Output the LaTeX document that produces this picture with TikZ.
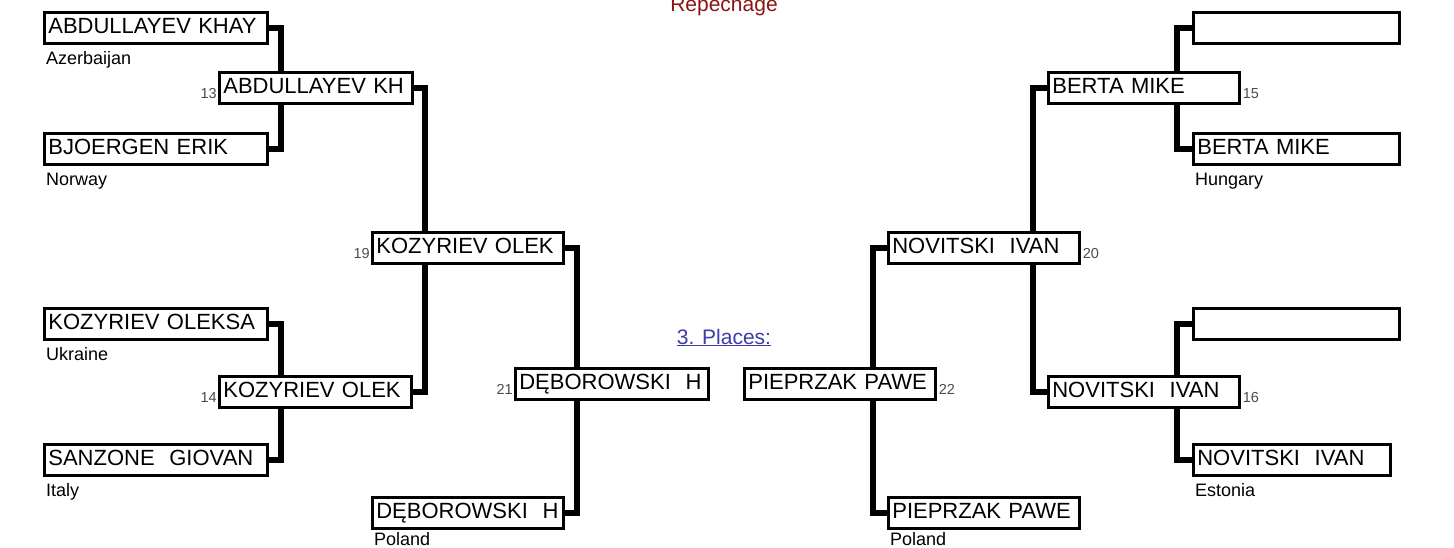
\documentclass[tikz,border=0pt]{standalone}
\usepackage{fontspec}
\setmainfont{Liberation Sans}
\definecolor{repred}{RGB}{140,20,20}
\definecolor{placeblue}{RGB}{60,60,170}
\newcommand{\namefont}{\fontsize{22}{26}\selectfont}
\newcommand{\nationfont}{\fontsize{18}{20}\selectfont}
\newcommand{\numfont}{\fontsize{14.5}{16}\selectfont}

\begin{document}
\begin{tikzpicture}[x=1pt,y=-1pt,
	fighter/.style={draw, fill=white, line width=2.7pt, anchor=north west, minimum height=31pt,
		inner ysep=0pt, inner xsep=4pt, text height=16pt, text depth=4.5pt, text width=#1, align=left, font=\namefont},
	link/.style={line width=5.4pt},
	nation/.style={anchor=base west, inner sep=0pt, font=\nationfont},
	num/.style={inner sep=0pt, font=\numfont, text=black!70}]
	\useasboundingbox (0,0) rectangle (1454,547);

	% left half
	\node[fighter=215pt] (ab) at (43,11) {ABDULLAYEV KHAY};
	\node[fighter=215pt] (bj) at (43,132) {BJOERGEN ERIK};
	\node[fighter=215pt] (kos) at (43,307) {KOZYRIEV OLEKSA};
	\node[fighter=215pt] (san) at (43,443) {SANZONE~~GIOVAN};
	\node[fighter=185pt] (ab13) at (218,71) {ABDULLAYEV KH};
	\node[fighter=184pt] (ko14) at (218,375) {KOZYRIEV OLEK};
	\node[fighter=183pt] (ko19) at (371,231) {KOZYRIEV OLEK};
	\node[fighter=183pt] (deb) at (371,496) {DĘBOROWSKI~~H};
	\node[fighter=185pt] (de21) at (514,367) {DĘBOROWSKI~~H};

	% right half
	\node[fighter=183pt] (pi22) at (743,367) {PIEPRZAK PAWE};
	\node[fighter=183pt] (no20) at (887,231) {NOVITSKI~~IVAN};
	\node[fighter=183pt] (pip) at (887,496) {PIEPRZAK PAWE};
	\node[fighter=183pt] (be15) at (1047,71) {BERTA MIKE};
	\node[fighter=183pt] (no16) at (1047,375) {NOVITSKI~~IVAN};
	\node[fighter=198pt] (e1) at (1192,11) {};
	\node[fighter=198pt] (be) at (1192,132) {BERTA MIKE};
	\node[fighter=198pt] (e2) at (1192,307) {};
	\node[fighter=189pt] (nov) at (1192,443) {NOVITSKI~~IVAN};

	\node[nation] (azr) at ([shift={(3,20)}]ab.south west) {Azerbaijan};
	\node[nation] (nor) at ([shift={(3,20)}]bj.south west) {Norway};
	\node[nation] (ukr) at ([shift={(3,20)}]kos.south west) {Ukraine};
	\node[nation] (ita) at ([shift={(3,20)}]san.south west) {Italy};
	\node[nation] (pol1) at ([shift={(3,16)}]deb.south west) {Poland};
	\node[nation] (pol2) at ([shift={(3,16)}]pip.south west) {Poland};
	\node[nation] (hun) at ([shift={(3,20)}]be.south west) {Hungary};
	\node[nation] (est) at ([shift={(3,20)}]nov.south west) {Estonia};

	\node[num, anchor=base east] (n13) at ([shift={(-1,-6)}]ab13.south west) {13};
	\node[num, anchor=base east] (n14) at ([shift={(-1,-6)}]ko14.south west) {14};
	\node[num, anchor=base east] (n19) at ([shift={(-1,-6)}]ko19.south west) {19};
	\node[num, anchor=base east] (n21) at ([shift={(-1,-6)}]de21.south west) {21};
	\node[num, anchor=base west] (n22) at ([shift={(2,-6)}]pi22.south east) {22};
	\node[num, anchor=base west] (n20) at ([shift={(2,-6)}]no20.south east) {20};
	\node[num, anchor=base west] (n15) at ([shift={(2,-6)}]be15.south east) {15};
	\node[num, anchor=base west] (n16) at ([shift={(2,-6)}]no16.south east) {16};

	\node[anchor=base, inner sep=0pt, font=\fontsize{21}{24}\selectfont, text=repred] (title) at (724,11) {Repechage};
	\node[anchor=base, inner sep=0pt, font=\fontsize{21}{24}\selectfont, text=placeblue] (places) at (724,344) {\underline{3. Places:}};

	% columns of the connectors
	\coordinate (c1) at (281,0);
	\coordinate (c2) at (425,0);
	\coordinate (c3) at (577,0);
	\coordinate (c4) at (873,0);
	\coordinate (c5) at (1033,0);
	\coordinate (c6) at (1177,0);

	\draw[link] (ab.east) -| (c1 |- ab13.north);
	\draw[link] (bj.east) -| (c1 |- ab13.south);
	\draw[link] (kos.east) -| (c1 |- ko14.north);
	\draw[link] (san.east) -| (c1 |- ko14.south);
	\draw[link] (ab13.east) -| (c2 |- ko19.north);
	\draw[link] (ko14.east) -| (c2 |- ko19.south);
	\draw[link] (ko19.east) -| (c3 |- de21.north);
	\draw[link] (deb.east) -| (c3 |- de21.south);

	\draw[link] (no20.west) -| (c4 |- pi22.north);
	\draw[link] (pip.west) -| (c4 |- pi22.south);
	\draw[link] (be15.west) -| (c5 |- no20.north);
	\draw[link] (no16.west) -| (c5 |- no20.south);
	\draw[link] (e1.west) -| (c6 |- be15.north);
	\draw[link] (be.west) -| (c6 |- be15.south);
	\draw[link] (e2.west) -| (c6 |- no16.north);
	\draw[link] (nov.west) -| (c6 |- no16.south);
\end{tikzpicture}
\end{document}
